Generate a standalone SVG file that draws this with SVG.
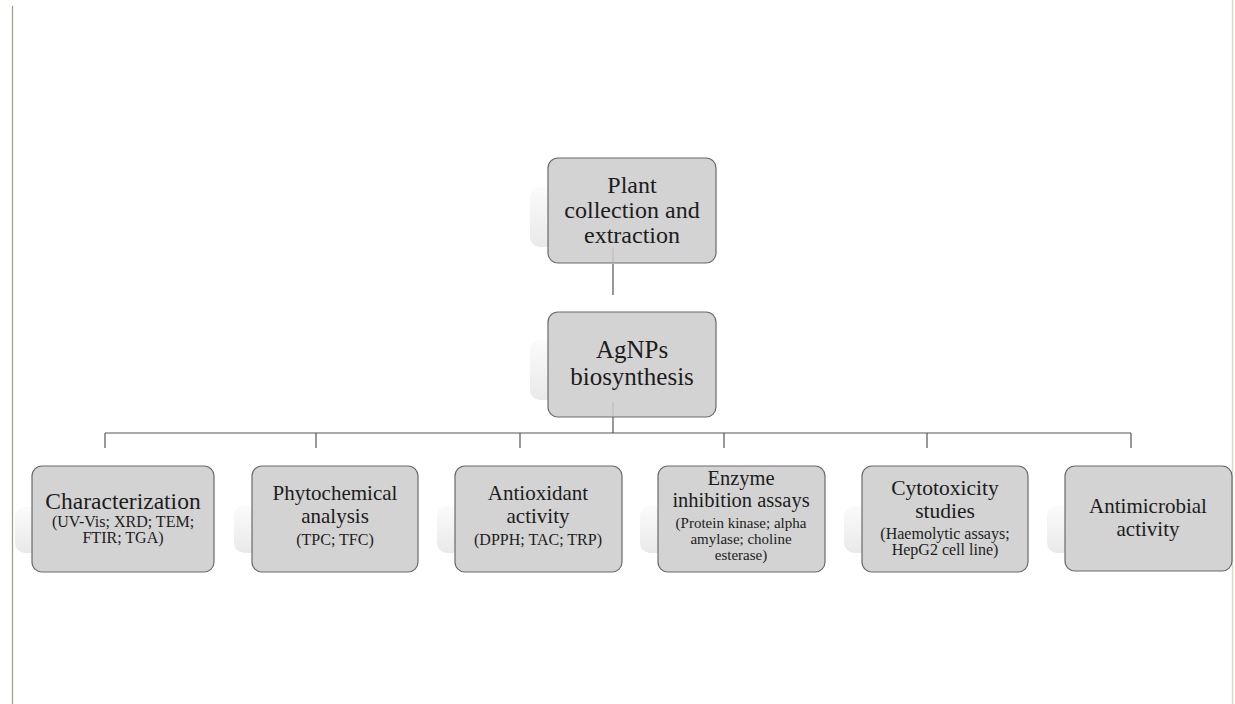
<svg xmlns="http://www.w3.org/2000/svg" width="1235" height="704" viewBox="0 0 1235 704">
<style>
.box{fill:#d3d3d3;stroke:#6a6a6a;stroke-width:1.2}
.sh{fill:url(#shg)}
.t{font-family:"Liberation Serif","Times New Roman",serif;fill:#1c1c1c;text-anchor:middle}
.c{stroke:#555;stroke-width:1.2;fill:none}
.f{stroke:#b8b8b8;stroke-width:1;fill:none}
</style>
<defs>
<linearGradient id="shg" x1="0" y1="0" x2="0" y2="1">
<stop offset="0" stop-color="#fbfbfb"/>
<stop offset="1" stop-color="#e9e9e9"/>
</linearGradient>
</defs>
<rect width="1235" height="704" fill="#fff"/>
<line x1="12.5" y1="6" x2="12.5" y2="704" stroke="#93a285" stroke-width="1.2"/>
<line x1="1232.5" y1="0" x2="1232.5" y2="704" stroke="#ddd8bc" stroke-width="1.5"/>

<g id="connectors">
<path class="c" d="M613 264V295"/>
<path class="c" d="M613 417V433"/>
<path class="c" d="M105 433H1131"/>
<path class="c" d="M105 433V448M316 433V448M520 433V448M724 433V448M927 433V448M1131 433V448"/>
<path class="f" d="M613 247V263M613 402V417"/>
</g>

<g id="plant">
<rect class="sh" x="530" y="187" width="170" height="60" rx="10"/>
<rect class="box" x="548" y="158" width="168" height="105" rx="10"/>
<path class="f" d="M613 247V262"/>
<text class="t" font-size="24"><tspan x="632" y="193">Plant</tspan><tspan x="632" y="218">collection and</tspan><tspan x="632" y="243">extraction</tspan></text>
</g>

<g id="agnps">
<rect class="sh" x="530" y="340" width="170" height="60" rx="10"/>
<rect class="box" x="548" y="312" width="168" height="105" rx="10"/>
<path class="f" d="M613 402V416"/>
<text class="t" font-size="25"><tspan x="632" y="358">AgNPs</tspan><tspan x="632" y="385">biosynthesis</tspan></text>
</g>

<g id="characterization">
<rect class="sh" x="15" y="507" width="180" height="46" rx="10"/>
<rect class="box" x="32" y="466" width="182" height="106" rx="10"/>
<text class="t" font-size="23.5"><tspan x="123" y="509">Characterization</tspan></text>
<text class="t" font-size="16"><tspan x="123" y="527">(UV-Vis; XRD; TEM;</tspan><tspan x="123" y="543">FTIR; TGA)</tspan></text>
</g>

<g id="phytochemical">
<rect class="sh" x="234" y="506" width="166" height="47" rx="10"/>
<rect class="box" x="252" y="466" width="166" height="106" rx="10"/>
<text class="t" font-size="21"><tspan x="335" y="500">Phytochemical</tspan><tspan x="335" y="523">analysis</tspan></text>
<text class="t" font-size="16"><tspan x="335" y="545">(TPC; TFC)</tspan></text>
</g>

<g id="antioxidant">
<rect class="sh" x="437" y="506" width="167" height="47" rx="10"/>
<rect class="box" x="455" y="466" width="167" height="106" rx="10"/>
<text class="t" font-size="21"><tspan x="538" y="500">Antioxidant</tspan><tspan x="538" y="523">activity</tspan></text>
<text class="t" font-size="16"><tspan x="538" y="545">(DPPH; TAC; TRP)</tspan></text>
</g>

<g id="enzyme">
<rect class="sh" x="640" y="506" width="167" height="47" rx="10"/>
<rect class="box" x="658" y="466" width="167" height="106" rx="10"/>
<text class="t" font-size="20.5"><tspan x="741" y="485">Enzyme</tspan><tspan x="741" y="507">inhibition assays</tspan></text>
<text class="t" font-size="15"><tspan x="741" y="528">(Protein kinase; alpha</tspan><tspan x="741" y="544">amylase; choline</tspan><tspan x="741" y="560">esterase)</tspan></text>
</g>

<g id="cytotoxicity">
<rect class="sh" x="844" y="506" width="166" height="47" rx="10"/>
<rect class="box" x="862" y="466" width="166" height="106" rx="10"/>
<text class="t" font-size="21.5"><tspan x="945" y="495">Cytotoxicity</tspan><tspan x="945" y="518">studies</tspan></text>
<text class="t" font-size="16"><tspan x="945" y="539">(Haemolytic assays;</tspan><tspan x="945" y="555">HepG2 cell line)</tspan></text>
</g>

<g id="antimicrobial">
<rect class="sh" x="1047" y="506" width="167" height="47" rx="10"/>
<rect class="box" x="1065" y="466" width="167" height="105" rx="10"/>
<text class="t" font-size="21"><tspan x="1148" y="513">Antimicrobial</tspan><tspan x="1148" y="536">activity</tspan></text>
</g>
</svg>
